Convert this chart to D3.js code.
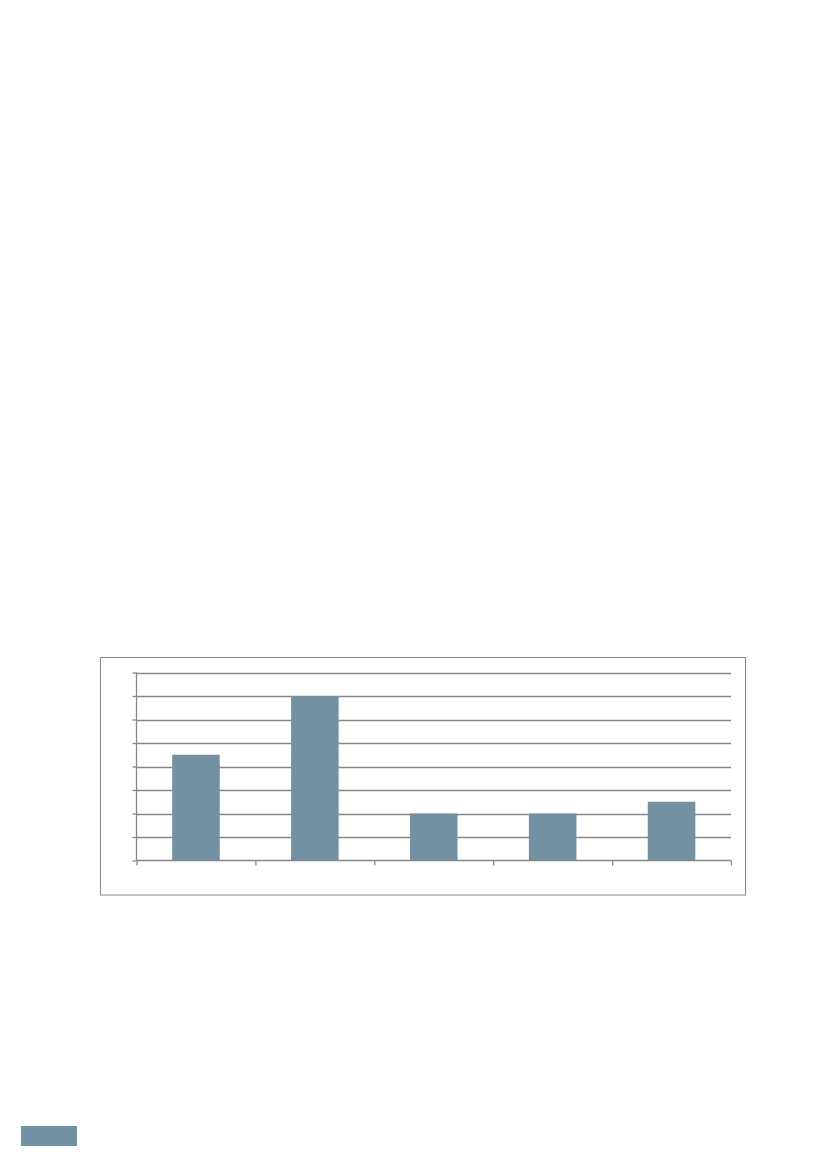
<!DOCTYPE html>
<html>
<head>
<meta charset="utf-8">
<script src="https://cdn.jsdelivr.net/npm/d3@7"></script>
<style>
  html, body { margin: 0; padding: 0; background: #fff; }
  svg { display: block; }
</style>
</head>
<body>
<script>
const categories = ["Category 1", "Category 2", "Category 3", "Category 4", "Category 5"];
const values = [4.5, 7, 2, 2, 2.5];
const yTicks = [0, 1, 2, 3, 4, 5, 6, 7, 8];

const W = 827, H = 1169;
const barColor = "#7491a4";
const gridColor = "#878787";

const svg = d3.select("body").append("svg").attr("width", W).attr("height", H);

// chart frame
svg.append("rect")
  .attr("x", 100.5).attr("y", 657.5)
  .attr("width", 645).attr("height", 237.5)
  .attr("fill", "#fff").attr("stroke", "#8a8a8a").attr("stroke-width", 1);

const plot = { left: 136.5, right: 731, top: 672.5, bottom: 860.5 };

const y = d3.scaleLinear().domain([0, 8]).range([plot.bottom, plot.top]);
const x = d3.scaleBand().domain(categories).range([plot.left, plot.right])
  .paddingInner(0.6).paddingOuter(0.3);
const xEdge = d3.scaleLinear().domain([0, categories.length]).range([plot.left, plot.right]);

// gridlines
svg.append("g").selectAll("line").data(yTicks.slice(1)).join("line")
  .attr("x1", plot.left).attr("x2", plot.right)
  .attr("y1", d => Math.round(y(d)) + 0.5).attr("y2", d => Math.round(y(d)) + 0.5)
  .attr("stroke", gridColor).attr("stroke-width", 1.3);

// bars
svg.append("g").selectAll("rect").data(values).join("rect")
  .attr("x", (d, i) => x(categories[i]))
  .attr("y", d => y(d))
  .attr("width", x.bandwidth())
  .attr("height", d => y(0) - y(d))
  .attr("fill", barColor);

// y axis
const yAxis = svg.append("g")
  .attr("transform", `translate(${plot.left},0)`)
  .call(d3.axisLeft(y).tickValues(yTicks).tickSize(4).tickFormat(""));
yAxis.selectAll("path, line").attr("stroke", gridColor).attr("stroke-width", 1.3);
yAxis.select(".domain").attr("d", `M0,${plot.top}V${plot.bottom}`);

// x axis
const xAxis = svg.append("g")
  .attr("transform", `translate(0,${plot.bottom})`)
  .call(d3.axisBottom(xEdge).tickValues(d3.range(categories.length + 1)).tickSize(5).tickFormat(""));
xAxis.selectAll("path, line").attr("stroke", gridColor).attr("stroke-width", 1.3);
xAxis.select(".domain").attr("d", `M${plot.left},0H${plot.right}`);

// page marker at bottom-left
svg.append("rect")
  .attr("x", 21).attr("y", 1126)
  .attr("width", 56).attr("height", 20)
  .attr("fill", barColor);
</script>
</body>
</html>
